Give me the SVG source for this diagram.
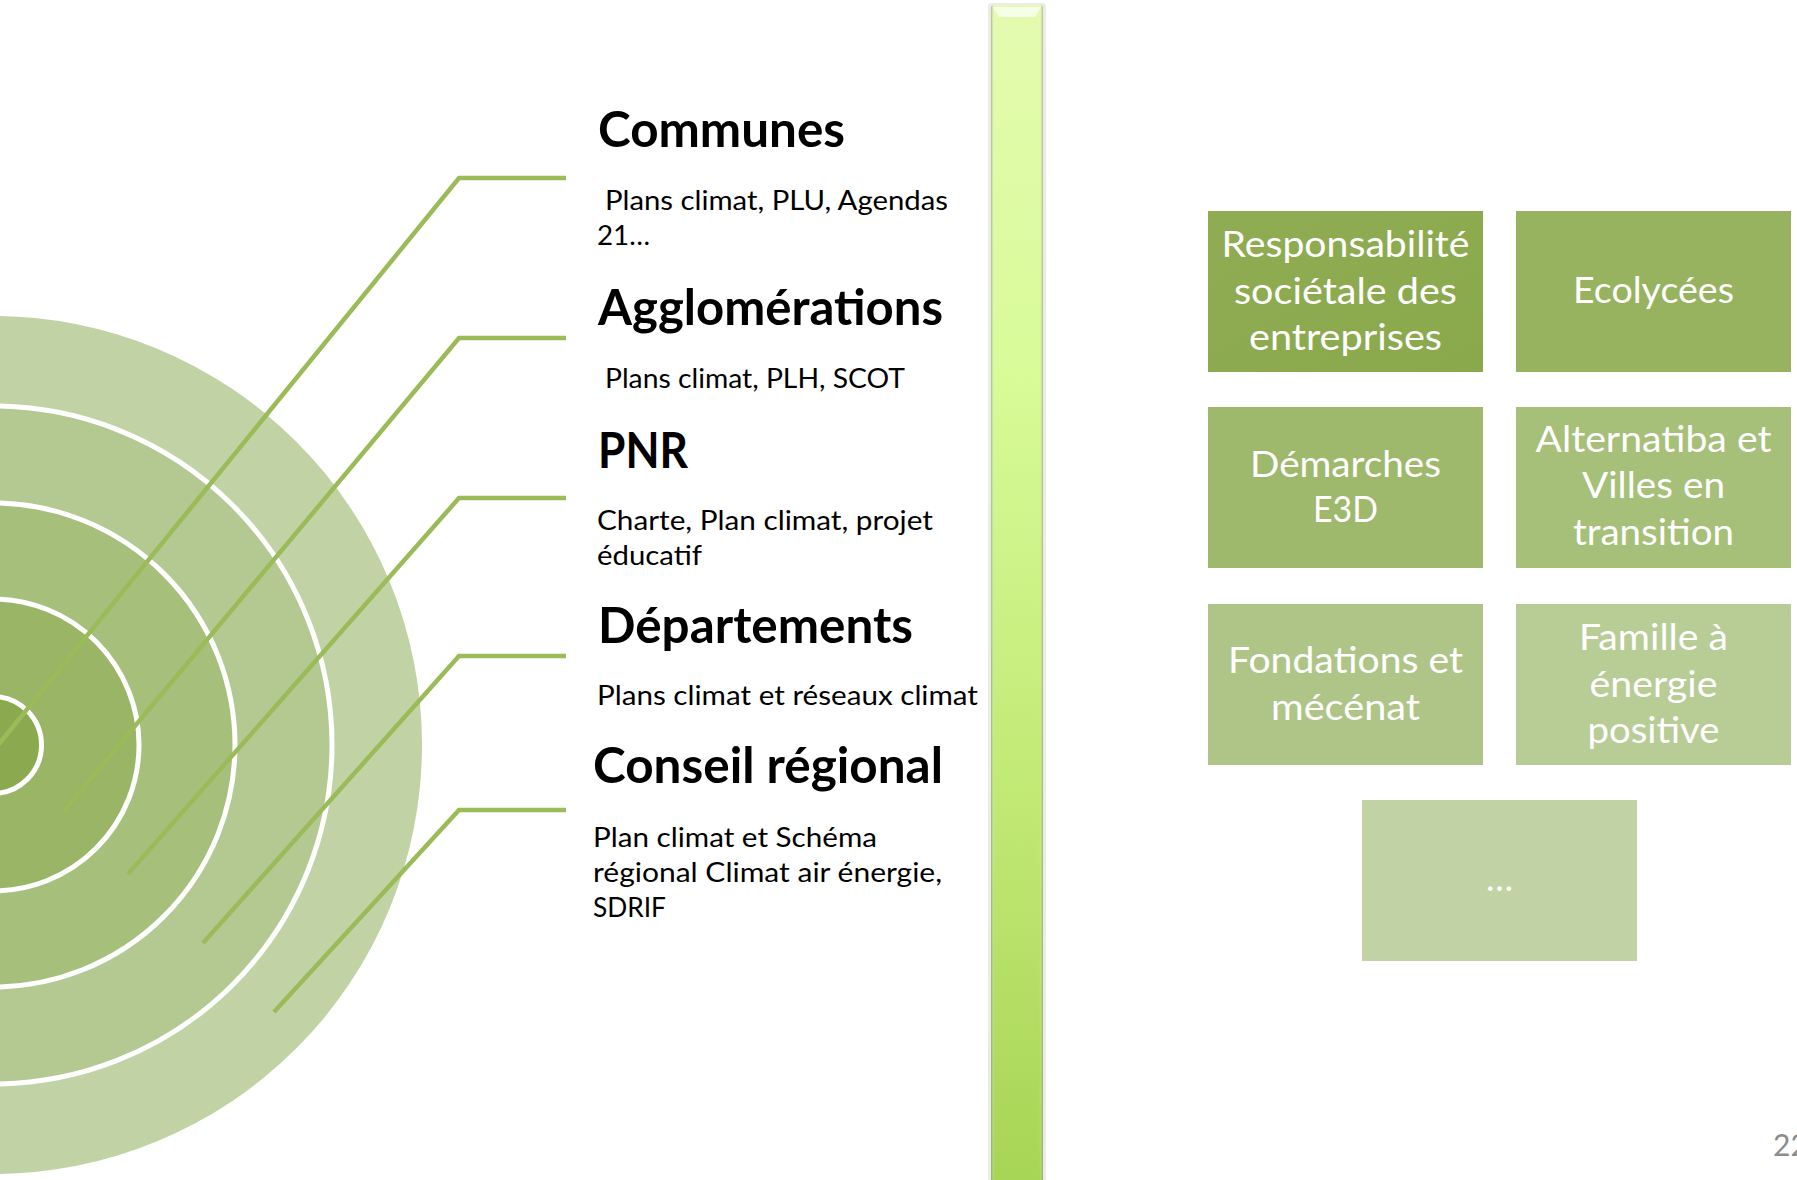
<svg xmlns="http://www.w3.org/2000/svg" width="1797" height="1180" viewBox="0 0 1797 1180">
<defs>
<linearGradient id="barGrad" x1="0" y1="0" x2="0" y2="1">
<stop offset="0" stop-color="#E4FBB0"/>
<stop offset="0.3" stop-color="#D9FB99"/>
<stop offset="0.65" stop-color="#C2EA76"/>
<stop offset="1" stop-color="#A6D453"/>
</linearGradient>
<linearGradient id="barEdge" x1="0" y1="0" x2="1" y2="0">
<stop offset="0" stop-color="#7f8f5a" stop-opacity="0.6"/>
<stop offset="0.07" stop-color="#ffffff" stop-opacity="0"/>
<stop offset="0.93" stop-color="#ffffff" stop-opacity="0"/>
<stop offset="1" stop-color="#7f8f5a" stop-opacity="0.6"/>
</linearGradient>
<linearGradient id="box1" x1="0" y1="0" x2="1" y2="1">
<stop offset="0" stop-color="#8FAC52"/>
<stop offset="1" stop-color="#8AA84C"/>
</linearGradient>
</defs>
<style>
.lead{fill:none;stroke:#9BBB59;stroke-width:4.5;stroke-linejoin:miter}
.ring{stroke:#FFFFFF;stroke-width:5}
.title{font-family:Lato,"Liberation Sans",sans-serif;font-weight:bold;font-size:49px;fill:#000}
.sub{font-family:Lato,"Liberation Sans",sans-serif;font-size:27px;fill:#000}
.box text{font-family:Lato,"Liberation Sans",sans-serif;font-size:36px;fill:#FFFFFF;text-anchor:middle}
.page{font-family:Lato,"Liberation Sans",sans-serif;font-size:30px;fill:#8C8C8C}
</style>
<rect width="1797" height="1180" fill="#FFFFFF"/>

<g id="target">
<circle cx="-7" cy="745" r="429" fill="#C1D3A5"/>
<circle cx="-7" cy="745" r="339" fill="#B4C992" class="ring"/>
<circle cx="-7" cy="745" r="242" fill="#A6C07C" class="ring"/>
<circle cx="-7" cy="745" r="146" fill="#99B565" class="ring"/>
<circle cx="-7" cy="745" r="48.5" fill="#8BAA4F" class="ring"/>
</g>

<g id="connectors">
<polyline class="lead" points="566,178 459,178 -6,750"/>
<polyline class="lead" points="566,338 459,338 64,811"/>
<polyline class="lead" points="566,498 459,498 128,874"/>
<polyline class="lead" points="566,656 459,656 203,943"/>
<polyline class="lead" points="566,810 459,810 274,1012"/>
</g>

<g id="communes">
<text class="title" x="598" y="147" textLength="247" lengthAdjust="spacingAndGlyphs">Communes</text>
<text class="sub" x="605" y="210" textLength="343" lengthAdjust="spacingAndGlyphs">Plans climat, PLU, Agendas</text>
<text class="sub" x="597" y="245" textLength="53" lengthAdjust="spacingAndGlyphs">21…</text>
</g>
<g id="agglomerations">
<text class="title" x="598" y="325" textLength="345" lengthAdjust="spacingAndGlyphs">Agglomérations</text>
<text class="sub" x="605" y="388" textLength="300" lengthAdjust="spacingAndGlyphs">Plans climat, PLH, SCOT</text>
</g>
<g id="pnr">
<text class="title" x="598" y="468" textLength="90" lengthAdjust="spacingAndGlyphs">PNR</text>
<text class="sub" x="597" y="530" textLength="336" lengthAdjust="spacingAndGlyphs">Charte, Plan climat, projet</text>
<text class="sub" x="597" y="565" textLength="105" lengthAdjust="spacingAndGlyphs">éducatif</text>
</g>
<g id="departements">
<text class="title" x="598" y="643" textLength="315" lengthAdjust="spacingAndGlyphs">Départements</text>
<text class="sub" x="597" y="705" textLength="381" lengthAdjust="spacingAndGlyphs">Plans climat et réseaux climat</text>
</g>
<g id="conseil-regional">
<text class="title" x="593" y="783" textLength="350" lengthAdjust="spacingAndGlyphs">Conseil régional</text>
<text class="sub" x="593" y="847" textLength="284" lengthAdjust="spacingAndGlyphs">Plan climat et Schéma</text>
<text class="sub" x="593" y="882" textLength="349" lengthAdjust="spacingAndGlyphs">régional Climat air énergie,</text>
<text class="sub" x="593" y="917" textLength="73" lengthAdjust="spacingAndGlyphs">SDRIF</text>
</g>

<g id="divider">
<rect x="988" y="3" width="58" height="1190" rx="4" fill="#000" opacity="0.08"/>
<rect x="991" y="5" width="52" height="1190" rx="3" fill="url(#barGrad)"/>
<rect x="991" y="5" width="52" height="1190" rx="3" fill="url(#barEdge)"/>
<path d="M993,7 L1041,7 L1035,17 L999,17 Z" fill="#FFFFFF" opacity="0.7"/>
</g>

<g id="box-rse" class="box">
<rect x="1208" y="211" width="275" height="161" fill="url(#box1)"/>
<text x="1345.5" y="257" textLength="248" lengthAdjust="spacingAndGlyphs">Responsabilité</text>
<text x="1345.5" y="304" textLength="223" lengthAdjust="spacingAndGlyphs">sociétale des</text>
<text x="1345.5" y="350" textLength="193" lengthAdjust="spacingAndGlyphs">entreprises</text>
</g>
<g id="box-ecolycees" class="box">
<rect x="1516" y="211" width="275" height="161" fill="#97B35F"/>
<text x="1653.5" y="303" textLength="161" lengthAdjust="spacingAndGlyphs">Ecolycées</text>
</g>
<g id="box-e3d" class="box">
<rect x="1208" y="407" width="275" height="161" fill="#9EB86C"/>
<text x="1345.5" y="477" textLength="191" lengthAdjust="spacingAndGlyphs">Démarches</text>
<text x="1345.5" y="522" textLength="65" lengthAdjust="spacingAndGlyphs">E3D</text>
</g>
<g id="box-alternatiba" class="box">
<rect x="1516" y="407" width="275" height="161" fill="#A6BF79"/>
<text x="1653.5" y="452" textLength="236" lengthAdjust="spacingAndGlyphs">Alternatiba et</text>
<text x="1653.5" y="498" textLength="143" lengthAdjust="spacingAndGlyphs">Villes en</text>
<text x="1653.5" y="545" textLength="161" lengthAdjust="spacingAndGlyphs">transition</text>
</g>
<g id="box-fondations" class="box">
<rect x="1208" y="604" width="275" height="161" fill="#AFC587"/>
<text x="1345.5" y="673" textLength="235" lengthAdjust="spacingAndGlyphs">Fondations et</text>
<text x="1345.5" y="720" textLength="149" lengthAdjust="spacingAndGlyphs">mécénat</text>
</g>
<g id="box-famille" class="box">
<rect x="1516" y="604" width="275" height="161" fill="#B8CC96"/>
<text x="1653.5" y="650" textLength="149" lengthAdjust="spacingAndGlyphs">Famille à</text>
<text x="1653.5" y="697" textLength="128" lengthAdjust="spacingAndGlyphs">énergie</text>
<text x="1653.5" y="743" textLength="132" lengthAdjust="spacingAndGlyphs">positive</text>
</g>
<g id="box-more" class="box">
<rect x="1362" y="800" width="275" height="161" fill="#C1D3A5"/>
<text x="1499.5" y="891">…</text>
</g>

<text class="page" x="1773" y="1156">22</text>
</svg>
